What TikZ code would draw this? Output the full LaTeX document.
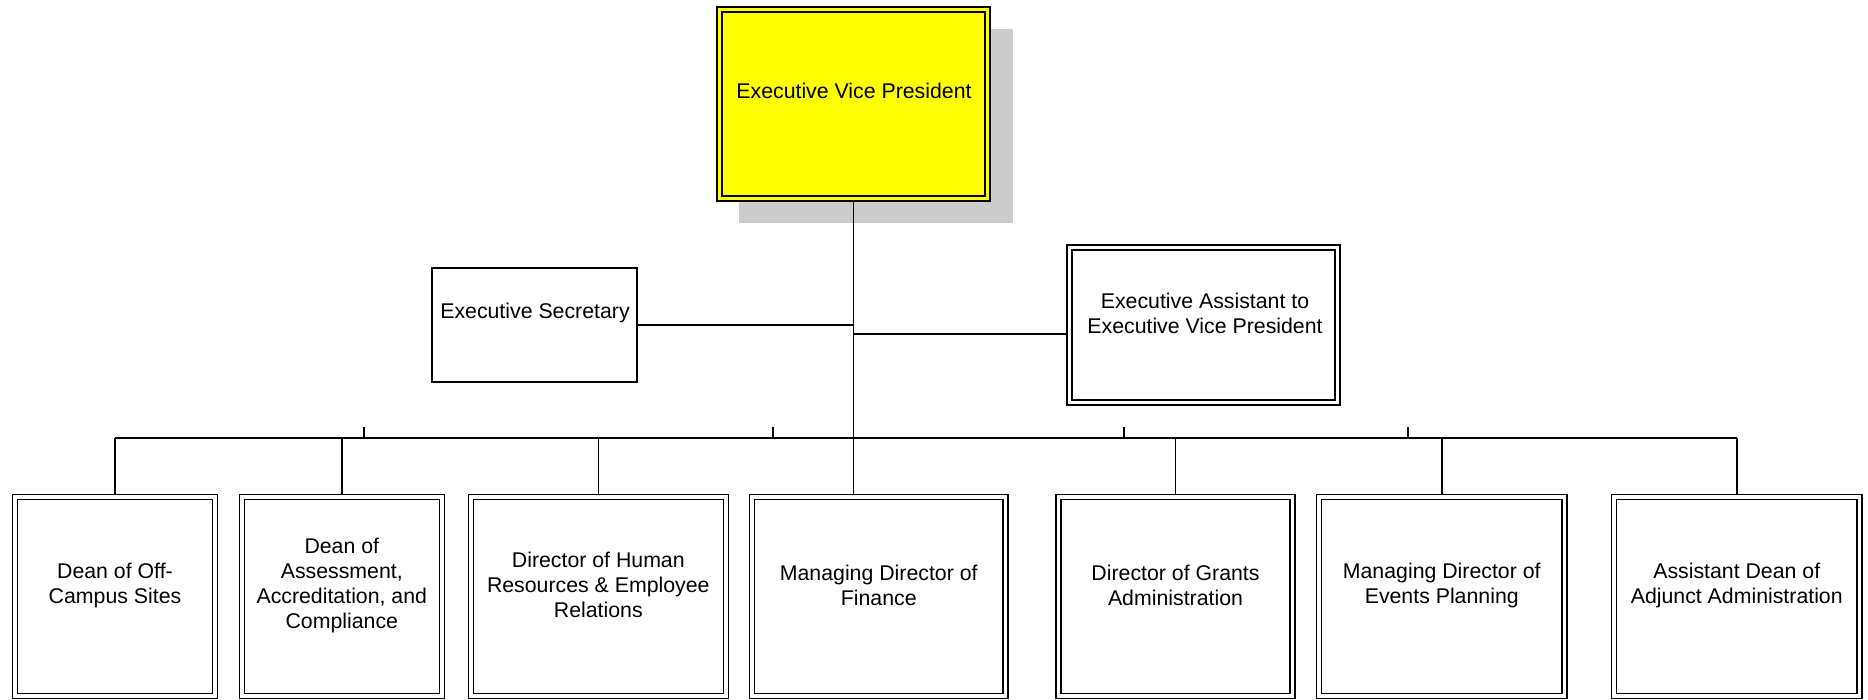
\documentclass[tikz,border=0pt]{standalone}
\usepackage{fontspec}
\setmainfont{Liberation Sans}
\definecolor{shadowgray}{RGB}{204,204,204}
\definecolor{evpyellow}{RGB}{255,255,0}
\tikzset{
  dbl/.style={draw=black, line width=1.5pt, double=white, double distance=3.5pt,
              outer sep=2.5pt, inner sep=0pt, fill=white, minimum height=199pt},
  sbox/.style={draw=black, line width=1.7pt, inner sep=0pt, outer sep=0.85pt, fill=white},
  lbl/.style={align=center, inner sep=0pt, font=\fontsize{21.3pt}{25pt}\selectfont},
  conn/.style={draw=black, line width=1.6pt},
}
\begin{document}
\begin{tikzpicture}[x=1pt, y=-1pt]
\useasboundingbox (0,0) rectangle (1868,699);
\clip (0,0) rectangle (1868,699);

% top box with shadow
\fill[shadowgray] (739,29) rectangle (1013,223);
\node[dbl, fill=evpyellow, double=evpyellow, minimum width=268pt, minimum height=189pt] (evp) at (853.5,104) {};
\node[lbl] (evpT) at (854,91) {Executive Vice President};

% staff boxes
\node[sbox, minimum width=205pt, minimum height=114pt] (es) at (534.5,325) {};
\node[lbl] (esT) at (535,313) {Executive Secretary};
\node[dbl, minimum width=268pt, minimum height=155pt] (ea) at (1203.5,325) {};
\node[lbl] (eaT) at (1205,313.5) {Executive Assistant to\\Executive Vice President};

% bottom row
\node[dbl, minimum width=199.6pt] (c1) at (115,596.5) {};
\node[dbl, minimum width=200pt]   (c2) at (341.8,596.5) {};
\node[dbl, minimum width=255pt]   (c3) at (598.3,596.5) {};
\node[dbl, minimum width=253.5pt] (c4) at (878.75,596.5) {};
\node[dbl, minimum width=234pt]   (c5) at (1175.5,596.5) {};
\node[dbl, minimum width=245.5pt] (c6) at (1441.75,596.5) {};
\node[dbl, minimum width=245.5pt] (c7) at (1736.75,596.5) {};

\node[lbl] (c1T) at (115,585) {Dean of Off-\\Campus Sites};
\node[lbl] (c2T) at (341.8,585) {Dean of\\Assessment,\\Accreditation, and\\Compliance};
\node[lbl] (c3T) at (598.3,585) {Director of Human\\Resources \& Employee\\Relations};
\node[lbl] (c4T) at (878.75,585) {Managing Director of\\Finance};
\node[lbl] (c5T) at (1175.5,585) {Director of Grants\\Administration};
\node[lbl] (c6T) at (1441.75,585) {Managing Director of\\Events Planning};
\node[lbl] (c7T) at (1736.75,585) {Assistant Dean of\\Adjunct Administration};

% connectors
\coordinate (bus) at (0,438);
\draw[conn] (evp.south) -- (evp.south |- c4.north);
\draw[conn] (es.east) -- (es.east -| evp.south);
\coordinate (eaIn) at ([yshift=-9pt]ea.west);
\draw[conn] (eaIn) -- (eaIn -| evp.south);
\draw[conn] (c1.north |- bus) -- (c7.north |- bus);
\foreach \c in {c1,c2,c3,c5,c6,c7} {
  \draw[conn] (\c.north) -- (\c.north |- bus);
}
\coordinate (tk1) at (364,427);
\coordinate (tk2) at (773,427);
\coordinate (tk3) at (1124,427);
\coordinate (tk4) at (1408,427);
\foreach \t in {tk1,tk2,tk3,tk4} {
  \draw[conn] (\t) -- (\t |- bus);
}
\end{tikzpicture}
\end{document}
